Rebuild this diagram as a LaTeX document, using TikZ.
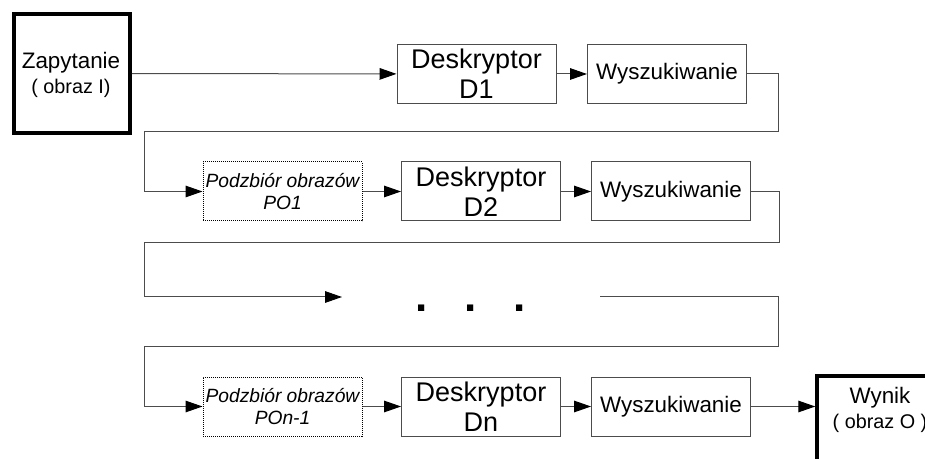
\documentclass[tikz,border=0pt]{standalone}
\usepackage{fontspec}
\setmainfont{Liberation Sans}
\usetikzlibrary{arrows.meta}

\begin{document}
\begin{tikzpicture}[
        x={(0.5pt,0pt)},
        y={(0pt,-0.5pt)},
        box/.style={draw=black!70, line width=0.5pt, inner sep=1pt,
            minimum width=79.5pt, minimum height=29.5pt, align=center},
        desc/.style={box, font=\fontsize{13.5}{15}\selectfont},
        search/.style={box, font=\fontsize{11.2}{13}\selectfont},
        subset/.style={box, draw=black, dash pattern=on 0.5pt off 0.5pt,
            font=\fontsize{9.6}{11}\selectfont\itshape},
        endbox/.style={draw=black, line width=1.75pt, inner sep=0pt,
            minimum width=58pt, minimum height=59.5pt},
        endtext/.style={align=center, inner sep=0pt,
            font=\fontsize{11.2}{12.5}\selectfont},
        link/.style={draw=black!70, line width=0.5pt,
            -{Triangle[length=8.5pt, width=5.8pt, black]}},
        dots/.style={anchor=base, inner sep=0pt,
            font=\fontsize{22}{22}\selectfont\bfseries}
    ]

    \useasboundingbox (0,0) rectangle (925,459);
    \clip (0,0) rectangle (925,459);

    % input and output
    \node[endbox] (query) at (72,73.5) {};
    \node[endtext] (querylab) at (71,75)
        {Zapytanie\\{\fontsize{9.9}{12.5}\selectfont ( obraz I)}};

    \node[endbox, minimum width=64pt] (result) at (881,435.5) {};
    \node[endtext] (resultlab) at (880,410)
        {Wynik\\{\fontsize{9.9}{12.5}\selectfont ( obraz O )}};

    % descriptor + search per stage
    \foreach \r/\yy/\dx/\wx/\lab in {1/74/476.5/667/D1, 2/191.5/481/671/D2, 3/406.5/481/671/Dn} {
        \node[desc] (d\r) at (\dx,\yy) {Deskryptor\\\lab};
        \node[search] (w\r) at (\wx,\yy) {Wyszukiwanie};
        \draw[link] (d\r) -- (w\r);
    }

    \node[subset] (po1) at (282.5,191.5) {Podzbiór obrazów\\PO1};
    \node[subset] (po3) at (282.5,406.5) {Podzbiór obrazów\\POn-1};

    \node[dots] (gap) at (471,312) {.\hspace{18.4pt}.\hspace{18.4pt}.};
    \coordinate (gapin) at (342,297);
    \coordinate (gapout) at (600,297);

    \draw[link] (query) -- (d1);
    \draw[link] (w1.east) -- ++(31,0) |- (144,132) |- (po1.west);
    \draw[link] (po1) -- (d2);
    \draw[link] (w2.east) -- ++(28,0) |- (144,243) |- (gapin);
    \draw[link] (gapout) -- (778,297) |- (144,346) |- (po3.west);
    \draw[link] (po3) -- (d3);
    \draw[link] (w3.east) -- (w3.east -| result.west);

\end{tikzpicture}
\end{document}
